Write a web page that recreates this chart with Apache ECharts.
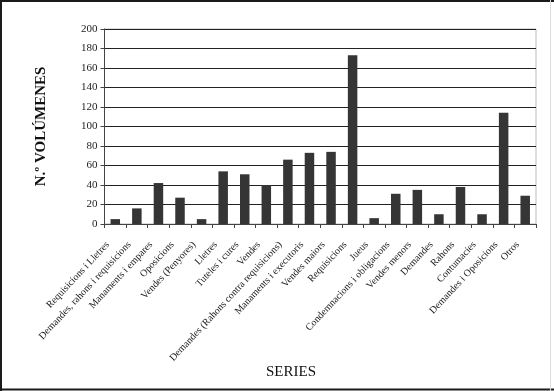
<!DOCTYPE html>
<html>
<head>
<meta charset="utf-8">
<script src="https://cdn.jsdelivr.net/npm/echarts@6/dist/echarts.min.js"></script>
<style>
html,body{margin:0;padding:0;background:#fff;}
#c{width:554px;height:391px;}
</style>
</head>
<body>
<div id="c"></div>
<script>
const categories = [
  "Requisicions i Lletres",
  "Demandes, rahons i requisicions",
  "Manaments i empares",
  "Oposicions",
  "Vendes (Penyores)",
  "Lletres",
  "Tuteles i cures",
  "Vendes",
  "Demandes (Rahons contra requisicions)",
  "Manaments i executoris",
  "Vendes maiors",
  "Requisicions",
  "Jueus",
  "Condemnacions i obligacions",
  "Vendes menors",
  "Demandes",
  "Rahons",
  "Contumacies",
  "Demandes i Oposicions",
  "Otros"
];
const volumes = [5, 16, 42, 27, 5, 54, 51, 40, 66, 73, 74, 173, 6, 31, 35, 10, 38, 10, 114, 29];
const yTicks = { min: 0, max: 200, interval: 20 };

const font = "'Liberation Serif', 'DejaVu Serif', serif";
const chart = echarts.init(document.getElementById('c'), null, { renderer: 'canvas' });
chart.setOption({
  animation: false,
  backgroundColor: '#ffffff',
  grid: { left: 104.5, right: 18, top: 29, bottom: 167, show: true, borderColor: '#bbbbbb', borderWidth: 1 },
  graphic: [
    { type: 'line', shape: { x1: 1, y1: 0, x2: 1, y2: 391 }, style: { stroke: '#1a1a1a', lineWidth: 2 } },
    { type: 'line', shape: { x1: 0, y1: 1, x2: 554, y2: 1 }, style: { stroke: '#1a1a1a', lineWidth: 2 } },
    { type: 'line', shape: { x1: 0, y1: 389.5, x2: 554, y2: 389.5 }, style: { stroke: '#1a1a1a', lineWidth: 2 } },
    { type: 'line', shape: { x1: 550.5, y1: 0, x2: 550.5, y2: 391 }, style: { stroke: '#dddddd', lineWidth: 1 } },
    { type: 'text', left: 296 - 30, top: 365, style: { text: 'SERIES', font: "15px " + font, fill: '#111', textAlign: 'left' } }
  ],
  xAxis: {
    type: 'category',
    data: categories,
    boundaryGap: true,
    axisLine: { lineStyle: { color: '#444', width: 1 } },
    axisTick: { show: true, alignWithLabel: false, length: 4, lineStyle: { color: '#444' } },
    axisLabel: { interval: 0, rotate: 47, margin: 11, padding: [0, 11, 0, 0], fontFamily: font, fontSize: 10, color: '#222' },
    splitLine: { show: false }
  },
  yAxis: {
    type: 'value',
    min: yTicks.min, max: yTicks.max, interval: yTicks.interval,
    name: 'N.º VOLÚMENES',
    nameLocation: 'middle',
    nameGap: 56,
    nameRotate: 90,
    nameTextStyle: { fontFamily: font, fontSize: 15, fontWeight: 'bold', color: '#111' },
    axisLine: { show: true, lineStyle: { color: '#444', width: 1 } },
    axisTick: { show: true, length: 4, lineStyle: { color: '#444' } },
    axisLabel: { margin: 7, fontFamily: font, fontSize: 11, color: '#222' },
    splitLine: { show: true, lineStyle: { color: '#222', width: 1 } }
  },
  series: [{
    type: 'bar',
    data: volumes,
    barWidth: 9.5,
    itemStyle: { color: '#353535' }
  }]
});
</script>
</body>
</html>
